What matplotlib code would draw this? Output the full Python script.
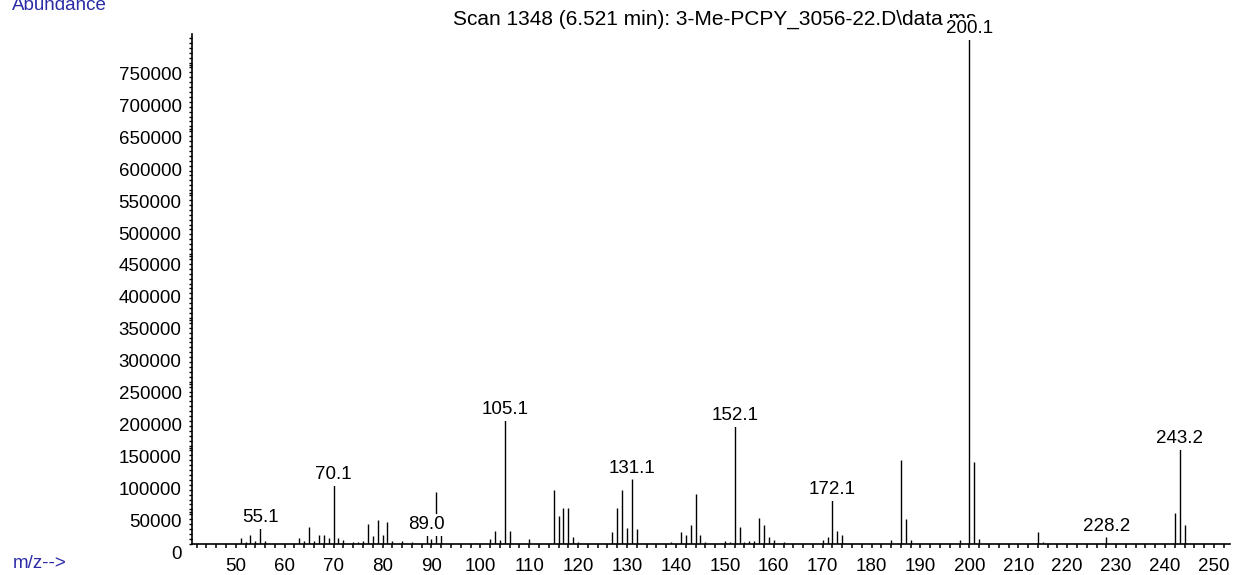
import matplotlib
matplotlib.use('Agg')
import matplotlib.pyplot as plt
from matplotlib.transforms import ScaledTranslation
from matplotlib.ticker import FixedLocator
import numpy as np

# ---- data ----
mz = [51, 52, 53, 54, 55, 56, 63, 64, 65, 66, 67, 68, 69, 70, 71, 72, 74, 75, 76,
      77, 78, 79, 80, 81, 82, 84, 86, 89, 90, 91, 92,
      99, 102, 103, 104, 105, 106, 110, 115, 116, 117, 118, 119, 120,
      127, 128, 129, 130, 131, 132, 139, 141, 142, 143, 144, 145, 146,
      150, 151, 152, 153, 154, 155, 156, 157, 158, 159, 160, 162,
      170, 171, 172, 173, 174, 184, 186, 187, 188, 198, 200, 201, 202,
      214, 215, 228, 242, 243, 244]
abundance = [9000, 3000, 13000, 5000, 24500, 4000, 9500, 4500, 26500, 5000, 13000, 13500, 9500, 92000, 9000, 6000, 3500, 3500, 5000,
             31500, 12000, 36500, 14000, 34000, 5000, 5000, 3500, 13000, 8000, 81000, 13000,
             2000, 7800, 19900, 5200, 194000, 19900, 7800, 85000, 43400, 55300, 55300, 10500, 2600,
             18300, 55300, 85000, 25000, 102000, 23000, 3000, 18300, 13000, 28700, 77900, 13000, 3000,
             4200, 2600, 184000, 25500, 3000, 4700, 4700, 40300, 28700, 11000, 5200, 3000,
             5200, 10500, 68000, 20400, 13600, 5200, 130500, 38100, 5200, 5200, 790000, 128000, 7800,
             18300, 2600, 11000, 47500, 147800, 28700]
label_mz = [55, 70, 89, 105, 131, 152, 172, 200, 228, 243]
label_text = ['55.1', '70.1', '89.0', '105.1', '131.1', '152.1', '172.1', '200.1', '228.2', '243.2']
y_ticks = list(range(0, 750001, 50000))
x_ticks = list(range(50, 251, 10))
title = "Scan 1348 (6.521 min): 3-Me-PCPY_3056-22.D\\data.ms"

plt.rcParams['font.family'] = ['Liberation Sans', 'DejaVu Sans']
BLUE = '#2b2ba6'
FS = 13.5

fig = plt.figure(figsize=(12.34, 5.75), dpi=100)
fig.patch.set_facecolor('white')
ax = fig.add_axes([0.1558, 0.0543, 0.9968 - 0.1558, 0.9403 - 0.0543])
ax.set_facecolor('white')

ax.vlines(mz, 0, abundance, color='black', linewidth=1.0, zorder=2)
ax.set_xlim(41.1, 253.3)
ax.set_ylim(0, 798000)

for s in ['top', 'right']:
    ax.spines[s].set_visible(False)
ax.spines['left'].set_linewidth(1.2)
ax.spines['bottom'].set_linewidth(1.2)

ax.set_xticks(x_ticks)
ax.set_xticklabels([str(t) for t in x_ticks])
ax.xaxis.set_minor_locator(FixedLocator(np.arange(42, 253, 2)))
ax.tick_params(axis='x', which='both', direction='out', length=2.6, width=1.1,
               pad=7.8, labelsize=FS, colors='black')

ax.set_yticks(y_ticks)
ax.set_yticklabels([str(t) for t in y_ticks])
ax.yaxis.set_minor_locator(FixedLocator(np.arange(0, 798000, 50000 / 6.5)))
ax.tick_params(axis='y', which='both', direction='out', length=2.2, width=1.0,
               pad=5.5, labelsize=FS, colors='black')
offset = ScaledTranslation(0, -8.5 / 100, fig.dpi_scale_trans)
for lab in ax.get_yticklabels():
    lab.set_transform(lab.get_transform() + offset)

# title as an axes artist so the peak labels can cover it
ax.text(453 / 1234, 1 - 25 / 575, title, transform=fig.transFigure, ha='left',
        va='baseline', fontsize=15.0, color='black', zorder=1, clip_on=False)

lookup = dict(zip(mz, abundance))
for m, t in zip(label_mz, label_text):
    ax.annotate(t, xy=(m, lookup[m]), xytext=(0, 1.5), textcoords='offset points',
                ha='center', va='bottom', fontsize=FS, color='black', zorder=5,
                annotation_clip=False,
                bbox=dict(boxstyle='square,pad=0.15', fc='white', ec='none'))

fig.text(11.7 / 1234, 1 - 10.5 / 575, 'Abundance', color=BLUE, fontsize=FS,
         ha='left', va='baseline')
fig.text(12.7 / 1234, 1 - 568 / 575, 'm/z-->', color=BLUE, fontsize=FS,
         ha='left', va='baseline')

fig.savefig('out.png', dpi=100, facecolor='white')
